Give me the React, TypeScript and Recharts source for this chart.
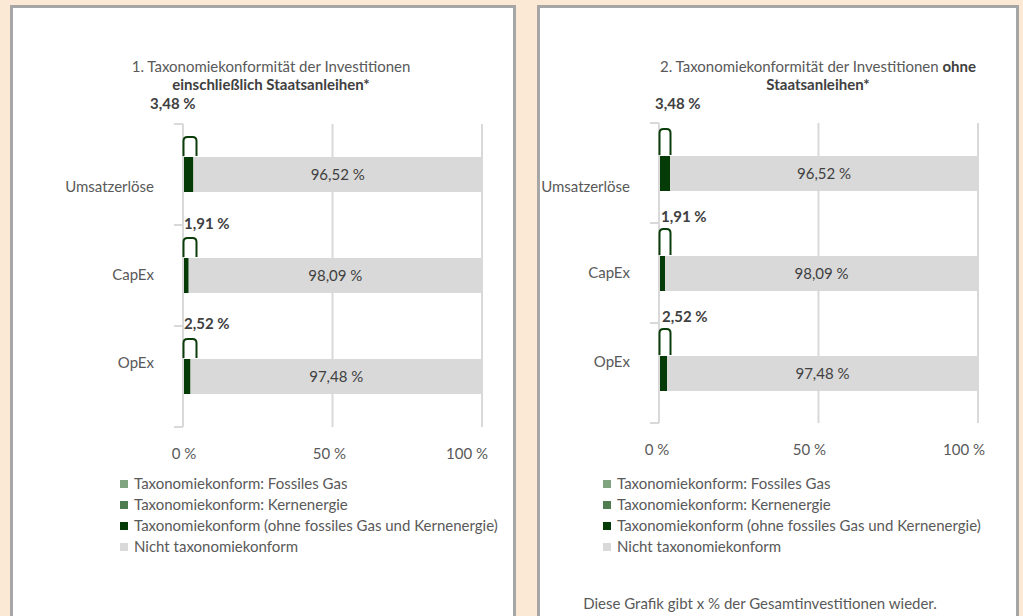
import { BarChart, Bar, XAxis, YAxis, CartesianGrid, LabelList } from 'recharts';

const categories = ['Umsatzerlöse', 'CapEx', 'OpEx'];
const fossilGas = [0, 0, 0];
const nuclear = [0, 0, 0];
const alignedIncl = [3.48, 1.91, 2.52];
const notAlignedIncl = [96.52, 98.09, 97.48];
const alignedExcl = [3.48, 1.91, 2.52];
const notAlignedExcl = [96.52, 98.09, 97.48];
const xTicks = [0, 50, 100];

const seriesNames = [
  'Taxonomiekonform: Fossiles Gas',
  'Taxonomiekonform: Kernenergie',
  'Taxonomiekonform (ohne fossiles Gas und Kernenergie)',
  'Nicht taxonomiekonform',
];
const seriesColors = ['#80a380', '#4f7d4f', '#043b06', '#d9d9d9'];

const FONT = 'Lato, "Open Sans", sans-serif';
const FS = 15;
const TEXT = '#595959';
const DARK = '#404040';
const GRID = '#d9d9d9';

const fmt = (v: number) => `${v.toFixed(2).replace('.', ',')} %`;

const buildData = (aligned: number[], notAligned: number[]) =>
  categories.map((name, i) => ({
    name,
    gas: fossilGas[i],
    kern: nuclear[i],
    aligned: aligned[i],
    other: notAligned[i],
  }));

interface PanelLayout {
  chartLeft: number;
  plotLeft: number;
  plotRight: number;
  plotTop: number;
  plotBottom: number;
  labelOffsets: { dx: number; dy: number }[];
  catDy: number[];
  tickDx: number[];
  archH: number;
  archW: number;
}

function Panel({ data, layout }: { data: ReturnType<typeof buildData>; layout: PanelLayout }) {
  const { chartLeft, plotLeft, plotRight, plotTop, plotBottom } = layout;
  const chartWidth = plotRight - chartLeft + 20;
  const band = (plotBottom - plotTop) / categories.length;

  const CatTick = (props: any) => {
    const { x, y, payload, index } = props;
    const top = y - band / 2;
    return (
      <g>
        <line x1={x - 9} x2={x} y1={top} y2={top} stroke={GRID} strokeWidth={2} />
        {index === categories.length - 1 && (
          <line x1={x - 9} x2={x} y1={top + band} y2={top + band} stroke={GRID} strokeWidth={2} />
        )}
        <text
          x={x - 29}
          y={y + layout.catDy[index] + 5}
          textAnchor="end"
          fill={TEXT}
          fontSize={FS}
          fontFamily={FONT}
        >
          {payload.value}
        </text>
      </g>
    );
  };

  const PctTick = (props: any) => {
    const { x, y, payload, index } = props;
    return (
      <text
        x={x + layout.tickDx[index]}
        y={y + 32}
        textAnchor="middle"
        fill={TEXT}
        fontSize={FS}
        fontFamily={FONT}
      >
        {`${payload.value} %`}
      </text>
    );
  };

  // bold share label with the small callout arch above the green segment
  const AlignedLabel = (props: any) => {
    const { x, y, value, index } = props;
    const i = typeof index === 'number' ? index : data.findIndex((d) => d.aligned === value);
    const off = layout.labelOffsets[i];
    const bx = x + 0.5;
    const b = y - 1;
    const t = b - layout.archH;
    const r = bx + layout.archW;
    return (
      <g>
        <path
          d={`M${bx},${b} L${bx},${t + 4} Q${bx},${t} ${bx + 4},${t} L${r - 4},${t} Q${r},${t} ${r},${t + 4} L${r},${b}`}
          fill="none"
          stroke="#0b3d0b"
          strokeWidth={2}
        />
        <text
          x={x + off.dx}
          y={y + off.dy + 5}
          fill={DARK}
          fontSize={FS}
          fontWeight={700}
          fontFamily={FONT}
        >
          {fmt(value)}
        </text>
      </g>
    );
  };

  return (
    <div style={{ position: 'absolute', left: chartLeft, top: 0 }}>
      <BarChart
        width={chartWidth}
        height={616}
        data={data}
        layout="vertical"
        barSize={35}
        margin={{ top: plotTop, right: chartWidth - (plotRight - chartLeft), bottom: 616 - plotBottom - 40, left: 0 }}
      >
        <CartesianGrid horizontal={false} stroke={GRID} strokeWidth={2} />
        <XAxis
          type="number"
          domain={[0, 100]}
          ticks={xTicks}
          axisLine={false}
          tickLine={false}
          tickSize={0}
          tickMargin={0}
          height={40}
          tick={<PctTick />}
          interval={0}
        />
        <YAxis
          type="category"
          dataKey="name"
          width={plotLeft - chartLeft}
          axisLine={{ stroke: GRID, strokeWidth: 2 }}
          tickLine={false}
          tickSize={0}
          tickMargin={0}
          tick={<CatTick />}
          interval={0}
        />
        <Bar dataKey="gas" stackId="s" fill={seriesColors[0]} isAnimationActive={false} />
        <Bar dataKey="kern" stackId="s" fill={seriesColors[1]} isAnimationActive={false} />
        <Bar dataKey="aligned" stackId="s" fill={seriesColors[2]} isAnimationActive={false}>
          <LabelList dataKey="aligned" content={<AlignedLabel />} />
        </Bar>
        <Bar dataKey="other" stackId="s" fill={seriesColors[3]} isAnimationActive={false}>
          <LabelList
            dataKey="other"
            position="center"
            formatter={(v: any) => fmt(Number(v))}
            fill={DARK}
            fontSize={FS}
            fontFamily={FONT}
          />
        </Bar>
      </BarChart>
    </div>
  );
}

function LegendBox({ left }: { left: number }) {
  return (
    <div style={{ position: 'absolute', left, top: 473, fontFamily: FONT, fontSize: FS, color: TEXT }}>
      {seriesNames.map((name, i) => (
        <div key={name} style={{ height: 21, lineHeight: '21px', whiteSpace: 'nowrap', display: 'flex', alignItems: 'center' }}>
          <span style={{ display: 'inline-block', width: 8, height: 8, background: seriesColors[i], marginRight: 6 }} />
          {name}
        </div>
      ))}
    </div>
  );
}

const leftLayout: PanelLayout = {
  chartLeft: 13,
  plotLeft: 183,
  plotRight: 482,
  plotTop: 124,
  plotBottom: 427,
  labelOffsets: [
    { dx: -33, dy: -53 },
    { dx: 1, dy: -34 },
    { dx: 1, dy: -35 },
  ],
  catDy: [12, -1, -14],
  tickDx: [1, -3, -15],
  archH: 19,
  archW: 13,
};

const rightLayout: PanelLayout = {
  chartLeft: 540,
  plotLeft: 659,
  plotRight: 978,
  plotTop: 123,
  plotBottom: 423,
  labelOffsets: [
    { dx: -4, dy: -52 },
    { dx: 2, dy: -39 },
    { dx: 3, dy: -39 },
  ],
  catDy: [14, 0, -11],
  tickDx: [-2, -9, -14],
  archH: 26,
  archW: 11,
};

const panelStyle = (left: number, width: number): React.CSSProperties => ({
  position: 'absolute',
  left,
  top: 5,
  width,
  height: 640,
  boxSizing: 'border-box',
  background: '#ffffff',
  border: '3px solid #a6a6a6',
});

const titleStyle = (center: number): React.CSSProperties => ({
  position: 'absolute',
  left: center - 220,
  width: 440,
  top: 57,
  textAlign: 'center',
  fontFamily: FONT,
  fontSize: FS,
  lineHeight: '18px',
  color: TEXT,
});

export default function App() {
  return (
    <div style={{ position: 'absolute', left: 0, top: 0, width: 1023, height: 616, overflow: 'hidden', background: '#fbe8d5' }}>
      <div style={panelStyle(10, 506)} />
      <div style={panelStyle(537, 482)} />

      <div style={titleStyle(271)}>
        1. Taxonomiekonformität der Investitionen
        <br />
        <b style={{ color: DARK }}>einschließlich Staatsanleihen*</b>
      </div>
      <div style={titleStyle(818)}>
        2. Taxonomiekonformität der Investitionen <b style={{ color: DARK }}>ohne</b>
        <br />
        <b style={{ color: DARK }}>Staatsanleihen*</b>
      </div>

      <Panel data={buildData(alignedIncl, notAlignedIncl)} layout={leftLayout} />
      <Panel data={buildData(alignedExcl, notAlignedExcl)} layout={rightLayout} />

      <LegendBox left={120} />
      <LegendBox left={603} />

      <div
        style={{
          position: 'absolute',
          left: 560,
          width: 400,
          top: 594,
          textAlign: 'center',
          fontFamily: FONT,
          fontSize: FS,
          lineHeight: '19px',
          color: TEXT,
        }}
      >
        Diese Grafik gibt x % der Gesamtinvestitionen wieder.
      </div>
    </div>
  );
}
